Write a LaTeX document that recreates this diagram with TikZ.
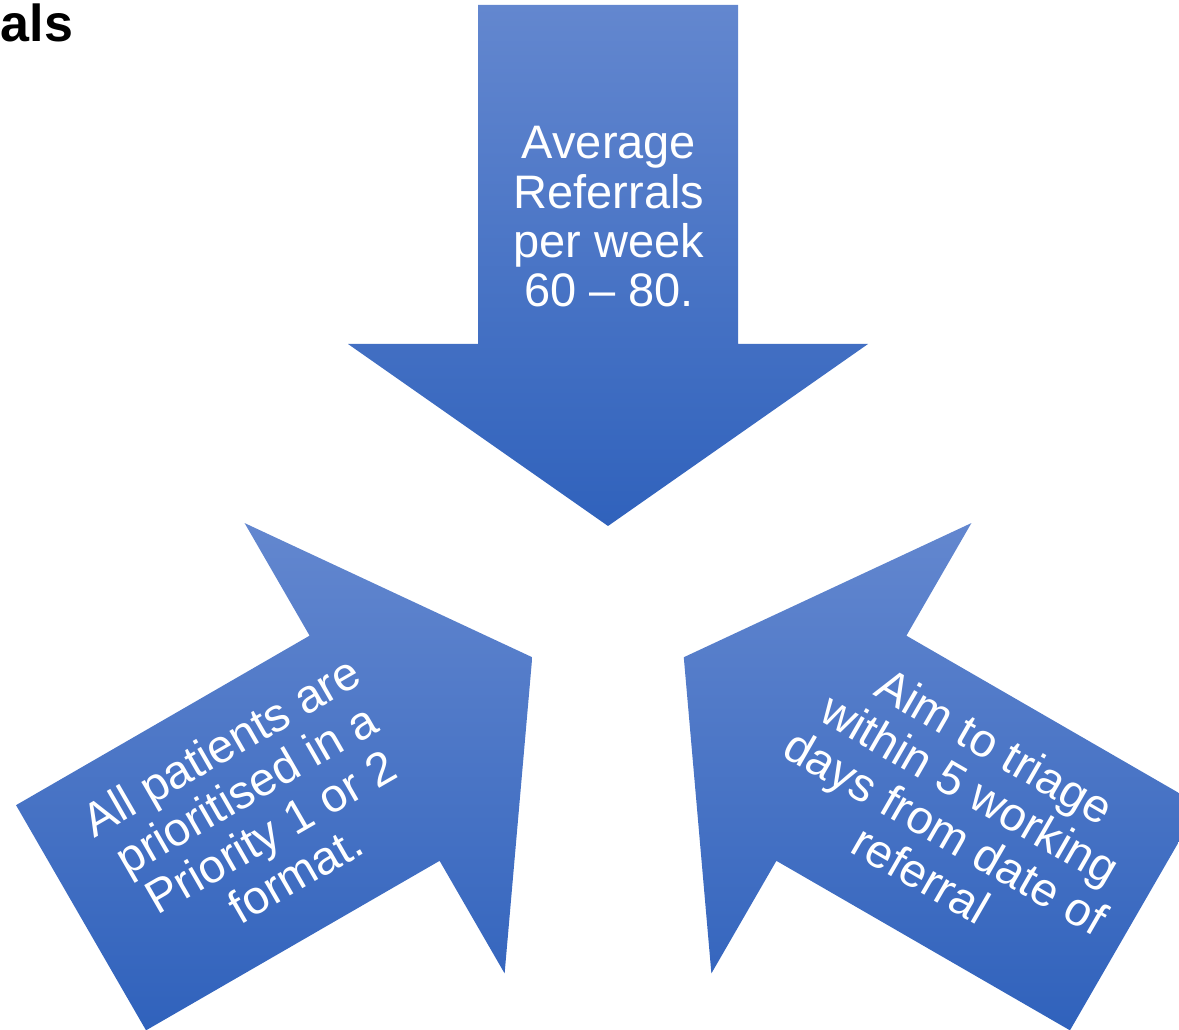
\documentclass[tikz,border=0pt]{standalone}
\usepackage{fontspec}
\setmainfont{Liberation Sans}
\definecolor{arrowtop}{RGB}{99,135,207}
\definecolor{arrowbot}{RGB}{48,98,188}
\begin{document}
\begin{tikzpicture}[x=0.75pt,y=0.75pt,yscale=-1,xscale=1,
  arrowshade/.style={top color=arrowtop,bottom color=arrowbot,draw=none},
  arrowtext/.style={text=white,align=center,inner sep=0pt,font=\fontsize{35.25}{37}\selectfont}]
\useasboundingbox (0,0) rectangle (1179,1030);
\clip (0,0) rectangle (1179,1030);

%Shape: Down Arrow
\shade[arrowshade] (478,5) -- (738,5) -- (738,344) -- (868,344) -- (608,526) -- (348,344) -- (478,344) -- cycle ;
%Shape: Down Arrow, turned 120
\shade[arrowshade] (146.03,1030.33) -- (16.03,805.17) -- (309.61,635.67) -- (244.61,523.08) -- (532.22,657.25) -- (504.61,973.42) -- (439.61,860.83) -- cycle ;
%Shape: Down Arrow, turned -120
\shade[arrowshade] (1069.97,1030.33) -- (1199.97,805.17) -- (906.39,635.67) -- (971.39,523.08) -- (683.78,657.25) -- (711.39,973.42) -- (776.39,860.83) -- cycle ;

% Text Node
\node[anchor=base east,inner sep=0pt,font=\bfseries\fontsize{39}{40}\selectfont] (title) at (73.5,41.5) {als};
% Text Node
\node[arrowtext] (referrals) at (609,217) {Average\\Referrals\\per week\\60 \textendash{} 80.};
% Text Node
\node[arrowtext,rotate=30] (priority) at (258,810) {All patients are\\prioritised in a\\Priority 1 or 2\\format.};
% Text Node
\node[arrowtext,rotate=-30] (triage) at (958,810) {Aim to triage\\within 5 working\\days from date of\\referral};

\end{tikzpicture}
\end{document}
